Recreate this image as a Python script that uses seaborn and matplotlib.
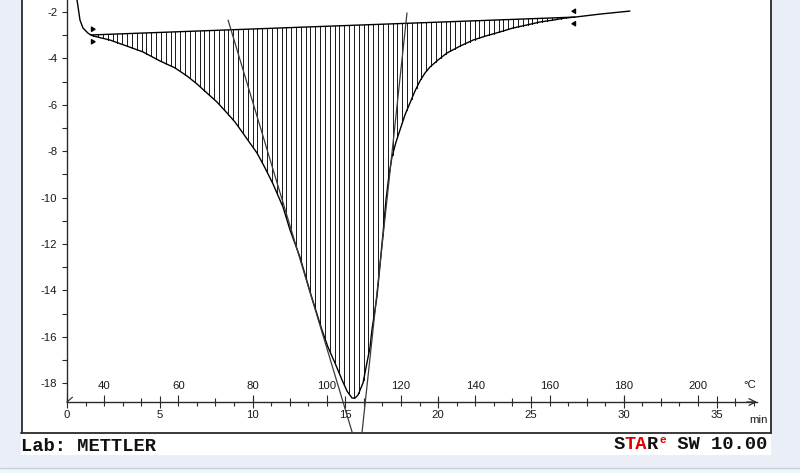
import numpy as np
import pandas as pd
import seaborn as sns
import matplotlib
matplotlib.use("Agg")
import matplotlib.pyplot as plt
from matplotlib.path import Path
from matplotlib.patches import Rectangle
from matplotlib.lines import Line2D
from matplotlib.ticker import MultipleLocator

# ---- data ----
time_min = [0.32, 0.54, 0.70, 0.86, 1.13, 1.29, 1.40, 2.32, 3.23, 4.09,
            5.01, 5.82, 6.47, 7.00, 7.54, 8.08, 8.62, 9.05, 9.48, 9.86,
            10.24, 10.67, 11.10, 11.64, 12.02, 12.55, 13.15, 13.74, 14.06, 14.44,
            14.82, 15.09, 15.36, 15.52, 15.68, 15.95, 16.16, 16.33, 16.43, 16.70,
            17.03, 17.19, 17.35, 17.51, 17.73, 17.94, 18.21, 18.48, 18.75, 19.02,
            19.29, 19.56, 19.99, 20.47, 21.18, 21.88, 22.58, 23.33, 24.03, 24.78,
            25.49, 26.19, 26.83, 27.37, 28.72, 30.33]
heat_flow = [-0.84, -1.48, -2.35, -2.69, -2.91, -2.99, -3.03, -3.21, -3.47, -3.72,
             -4.11, -4.41, -4.76, -5.10, -5.49, -5.88, -6.35, -6.74, -7.22, -7.65,
             -8.08, -8.72, -9.41, -10.41, -11.40, -12.56, -14.20, -15.71, -16.44, -17.13,
             -17.86, -18.34, -18.64, -18.64, -18.51, -17.99, -17.13, -16.44, -15.71, -14.28,
             -11.53, -10.10, -9.03, -8.25, -7.60, -7.09, -6.44, -5.92, -5.41, -4.97,
             -4.63, -4.37, -4.07, -3.77, -3.47, -3.21, -3.03, -2.86, -2.69, -2.56,
             -2.43, -2.35, -2.26, -2.22, -2.09, -1.96]
baseline_time = [1.29, 27.37]
baseline_value = [-2.99, -2.22]
tangent_left_time = [8.68, 15.36]
tangent_left_value = [-2.35, -20.10]
tangent_right_time = [18.32, 15.90]
tangent_right_value = [-2.04, -20.10]
y_ticks = [-2, -4, -6, -8, -10, -12, -14, -16, -18]
time_ticks = [0, 5, 10, 15, 20, 25, 30, 35]
temp_ticks = [40, 60, 80, 100, 120, 140, 160, 180, 200]

df = pd.DataFrame({"time": time_min, "dsc": heat_flow})

sns.set_theme(style="white")
plt.rcParams["font.family"] = ["Liberation Sans", "DejaVu Sans"]
plt.rcParams["axes.unicode_minus"] = False

W, H = 800, 473
fig = plt.figure(figsize=(W / 100, H / 100), dpi=100, facecolor="#e9eef7")


def fx(x):
    return x / W


def fy(y):
    return 1 - y / H


# white panel + frame (behind the axes)
fig.patches.append(Rectangle((fx(21), fy(455)), fx(771) - fx(21), fy(0) - fy(455),
                             transform=fig.transFigure, facecolor="white",
                             edgecolor="none", zorder=-10))
fig.patches.append(Rectangle((0, 0), 1, fy(468), transform=fig.transFigure,
                             facecolor="#eef6fa", edgecolor="none", zorder=-10))
for (x0, y0, x1, y1) in [(21.5, 0, 21.5, 432.5), (21, 432.5, 771, 432.5),
                         (770.5, 0, 770.5, 432.5)]:
    fig.lines.append(Line2D([fx(x0), fx(x1)], [fy(y0), fy(y1)], transform=fig.transFigure,
                            color="#2a2a2a", lw=1.3, zorder=-5))
fig.lines.append(Line2D([0, 1], [fy(467.5), fy(467.5)], transform=fig.transFigure,
                        color="#c9d2de", lw=1, zorder=-5))

ax = fig.add_axes([fx(67), fy(402), (757 - 67) / W, 402 / H])
ax.set_zorder(1)
ax.set_facecolor("none")
ax.set_xlim(0, 37.18)
ax.set_ylim(-18.81, -1.483)

# hatched area between baseline and curve
t = np.asarray(time_min)
v = np.asarray(heat_flow)
grid = np.arange(baseline_time[0] + 0.13, baseline_time[1], 0.26)
ax.vlines(grid, np.interp(grid, baseline_time, baseline_value), np.interp(grid, t, v),
          color="#1e1e1e", lw=0.6, zorder=2, antialiased=False)

sns.lineplot(data=df, x="time", y="dsc", ax=ax, color="black", lw=1.0,
             estimator=None, sort=False, zorder=3)
ax.plot(baseline_time, baseline_value, color="black", lw=1.0, zorder=3)
ax.plot(tangent_left_time, tangent_left_value, color="#3a3a3a", lw=0.9, clip_on=False, zorder=3)
ax.plot(tangent_right_time, tangent_right_value, color="#3a3a3a", lw=0.9, clip_on=False, zorder=3)

# integration limit markers
start_mark = Path([(0, 3), (0, 6), (2.5, 4.5), (0, 3), (0, -3), (0, -6), (2.5, -4.5), (0, -3)],
                  [Path.MOVETO, Path.LINETO, Path.LINETO, Path.CLOSEPOLY] * 2)
end_mark = Path([(0, 3), (0, 6), (-2.5, 4.5), (0, 3), (0, -3), (0, -6), (-2.5, -4.5), (0, -3)],
                [Path.MOVETO, Path.LINETO, Path.LINETO, Path.CLOSEPOLY] * 2)
ax.plot([baseline_time[0]], [baseline_value[0]], marker=start_mark, ms=12, color="black",
        ls="none", zorder=4)
ax.plot([baseline_time[1]], [baseline_value[1]], marker=end_mark, ms=12, color="black",
        ls="none", zorder=4)

# axes styling
for s in ["top", "right"]:
    ax.spines[s].set_visible(False)
for s in ["left", "bottom"]:
    ax.spines[s].set_color("#2a2a2a")
    ax.spines[s].set_linewidth(1.0)

ax.set_yticks(y_ticks)
ax.yaxis.set_minor_locator(MultipleLocator(1))
ax.tick_params(axis="y", which="both", left=True, direction="out", length=3.6, width=0.8,
               color="#2a2a2a", labelsize=8.2, labelcolor="#1a1a1a", pad=3.5)
ax.set_xticks(time_ticks)
ax.xaxis.set_minor_locator(MultipleLocator(1))
ax.tick_params(axis="x", which="major", bottom=True, direction="inout", length=8, width=0.8,
               color="#2a2a2a", labelsize=8.2, labelcolor="#1a1a1a", pad=2)
ax.tick_params(axis="x", which="minor", bottom=True, direction="out", length=3, width=0.8,
               color="#2a2a2a")
ax.set_xlabel("")
ax.set_ylabel("")

sec = ax.secondary_xaxis(0, functions=(lambda m: 30 + 5 * m, lambda c: (c - 30) / 5))
sec.set_xticks(temp_ticks)
sec.xaxis.set_minor_locator(MultipleLocator(10))
sec.xaxis.set_ticks_position("top")
sec.tick_params(axis="x", which="major", top=True, direction="out", length=5, width=0.8,
                color="#2a2a2a", labelsize=8.2, labelcolor="#1a1a1a", pad=3)
sec.tick_params(axis="x", which="minor", top=True, direction="out", length=3, width=0.8,
                color="#2a2a2a")
for s in sec.spines.values():
    s.set_visible(False)

ax.annotate("", xy=(1.0, 0), xytext=(0.985, 0), xycoords="axes fraction",
            arrowprops=dict(arrowstyle="->", lw=0.9, color="#2a2a2a", shrinkA=0, shrinkB=0),
            annotation_clip=False)
ax.plot([0, 0.008], [0, 0.012], transform=ax.transAxes, color="#2a2a2a", lw=0.8, clip_on=False)

ax.text((750 - 67) / 690, (402 - 385) / 402, "°C", transform=ax.transAxes, ha="center",
        va="center", fontsize=8.2, color="#1a1a1a")
ax.text((758 - 67) / 690, (402 - 420) / 402, "min", transform=ax.transAxes, ha="center",
        va="center", fontsize=8.2, color="#1a1a1a")

# footer texts
mono = "Liberation Mono"
fig.text(fx(21), fy(446), "Lab: METTLER", family=mono, fontsize=13.5, color="#111111",
         ha="left", va="center", fontweight="bold")
t1 = fig.text(fx(767), fy(453), " SW 10.00", family=mono, fontsize=13.5, color="#111111",
              ha="right", va="bottom", fontweight="bold")
e_txt = ax.annotate("e", xy=(0, 0.5), xycoords=t1, ha="right", va="bottom", family=mono,
                    fontsize=8, color="#e00000", fontweight="bold", annotation_clip=False)
r_txt = ax.annotate("R", xy=(0, 0), xycoords=t1, xytext=(-5.5, 0), textcoords="offset points",
                    ha="right", va="bottom", family=mono, fontsize=13.5, color="#111111",
                    fontweight="bold", annotation_clip=False)
ta_txt = ax.annotate("TA", xy=(0, 0), xycoords=r_txt, ha="right", va="bottom", family=mono,
                     fontsize=13.5, color="#e00000", fontweight="bold", annotation_clip=False)
s_txt = ax.annotate("S", xy=(0, 0), xycoords=ta_txt, ha="right", va="bottom", family=mono,
                    fontsize=13.5, color="#111111", fontweight="bold", annotation_clip=False)

fig.savefig("out.png", dpi=100, facecolor=fig.get_facecolor())
